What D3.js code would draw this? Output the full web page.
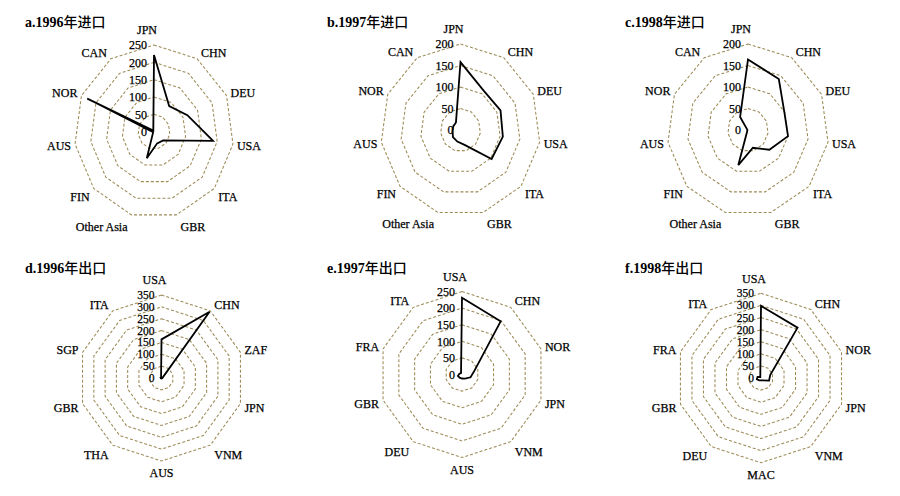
<!DOCTYPE html>
<html><head><meta charset="utf-8">
<script src="https://cdn.jsdelivr.net/npm/d3@7"></script>
<style>body{margin:0;background:#fff} svg{display:block}</style>
</head><body>
<svg id="chart" width="900" height="496"></svg>
<script>
// ---- data ----
const importCategories = ["JPN","CHN","DEU","USA","ITA","GBR","Other Asia","FIN","AUS","NOR","CAN"];
const import1996 = [221, 88, 115, 187, 38, 35, 80, 4, 4, 230, 4];
const import1997 = [158, 108, 110, 107, 103, 36, 28, 25, 20, 20, 21];
const import1998 = [164, 141, 99, 100, 70, 43, 85, 2, 2, 2, 36];
const export1996Categories = ["USA","CHN","ZAF","JPN","VNM","AUS","THA","GBR","SGP","ITA"];
const export1996 = [163, 345, 5, 3, 2, 2, 2, 3, 4, 3];
const export1997Categories = ["USA","CHN","NOR","JPN","VNM","AUS","DEU","GBR","FRA","ITA"];
const export1997 = [231, 198, 40, 27, 15, 12, 12, 13, 8, 5];
const export1998Categories = ["USA","CHN","NOR","JPN","VNM","MAC","DEU","GBR","FRA","ITA"];
const export1998 = [298, 257, 40, 35, 12, 10, 12, 18, 15, 5];
const ticks200 = [0, 50, 100, 150, 200];
const ticks250 = [0, 50, 100, 150, 200, 250];
const ticks350 = [0, 50, 100, 150, 200, 250, 300, 350];
const titlePrefixes = ["a.1996", "b.1997", "c.1998", "d.1996", "e.1997", "f.1998"];
const titleSuffixes = ["年进口", "年进口", "年进口", "年出口", "年出口", "年出口"];

// ---- layout ----
const panels = [
  {cats: importCategories, vals: import1996, ticks: ticks250, cx: 154, cy: 131.7, R: 86.7, kx: 0.92, tx: 25, ty: 27},
  {cats: importCategories, vals: import1997, ticks: ticks200, cx: 460.5, cy: 130, R: 86, kx: 0.93, tx: 327, ty: 27},
  {cats: importCategories, vals: import1998, ticks: ticks200, cx: 748, cy: 130, R: 86, kx: 0.94, tx: 625, ty: 27},
  {cats: export1996Categories, vals: export1996, ticks: ticks350, cx: 161.5, cy: 378, R: 83, kx: 1, tx: 25, ty: 273},
  {cats: export1997Categories, vals: export1997, ticks: ticks250, cx: 462, cy: 374.5, R: 83, kx: 1, tx: 327, ty: 273},
  {cats: export1998Categories, vals: export1998, ticks: ticks350, cx: 761, cy: 378, R: 84.7, kx: 1, tx: 625, ty: 273}
];

const svg = d3.select("#chart");
const ringColor = "#9c8a55";
const serif = "'Liberation Serif','Times New Roman',serif";

panels.forEach((p, pi) => {
  const n = p.cats.length;
  const ang = d3.scaleLinear().domain([0, n]).range([0, 2 * Math.PI]);
  const rad = d3.scaleLinear().domain([0, d3.max(p.ticks)]).range([0, p.R]);
  const pt = (i, r) => [p.cx + r * Math.sin(ang(i)) * p.kx, p.cy - r * Math.cos(ang(i))];
  const g = svg.append("g");
  const tickFont = p.ticks.length > 6 ? 11.5 : 12;

  // rings
  const ringLine = d3.line().curve(d3.curveLinearClosed);
  p.ticks.filter(t => t > 0).forEach(t => {
    g.append("path")
      .attr("d", ringLine(d3.range(n).map(i => pt(i, rad(t)))))
      .attr("fill", "none").attr("stroke", ringColor)
      .attr("stroke-width", 1.05).attr("stroke-dasharray", "3,2");
  });

  // data polygon
  g.append("path")
    .attr("d", ringLine(p.vals.map((v, i) => pt(i, rad(v)))))
    .attr("fill", "none").attr("stroke", "#000")
    .attr("stroke-width", 1.8).attr("stroke-linejoin", "miter");

  // tick labels
  p.ticks.forEach(t => {
    g.append("text")
      .attr("x", p.cx - 7).attr("y", p.cy - rad(t))
      .attr("dy", "0.35em").attr("text-anchor", "end")
      .attr("font-family", serif).attr("font-size", tickFont).attr("fill", "#000")
      .attr("stroke", "#000").attr("stroke-width", 0.25)
      .text(t);
  });

  // category labels
  p.cats.forEach((c, i) => {
    const a = ang(i);
    const s = Math.sin(a), co = Math.cos(a);
    const v = pt(i, p.R);
    const txt = g.append("text")
      .attr("font-family", serif).attr("font-size", 12).attr("fill", "#000")
      .attr("stroke", "#000").attr("stroke-width", 0.25)
      .attr("text-anchor", "middle").attr("dy", "0.35em")
      .text(c);
    const w = txt.node().getComputedTextLength();
    let x, y;
    if (Math.abs(s) > 0.2) {
      x = v[0] + Math.sign(s) * (w / 2 + 4);
      y = v[1] - co * (co < 0 ? 12 : 7.5);
    } else if (co > 0) {
      x = v[0] - 7; y = v[1] - 15;
    } else {
      x = v[0]; y = v[1] + 12;
    }
    txt.attr("x", x).attr("y", y);
  });

  // title
  const tt = svg.append("text").attr("x", p.tx).attr("y", p.ty)
    .attr("font-size", 14).attr("fill", "#000");
  tt.append("tspan").attr("font-family", serif).attr("font-weight", "bold").text(titlePrefixes[pi]);
  tt.append("tspan").attr("font-family", "'Noto Sans CJK SC',sans-serif").attr("font-weight", 500).text(titleSuffixes[pi]);
});
</script>
</body></html>
